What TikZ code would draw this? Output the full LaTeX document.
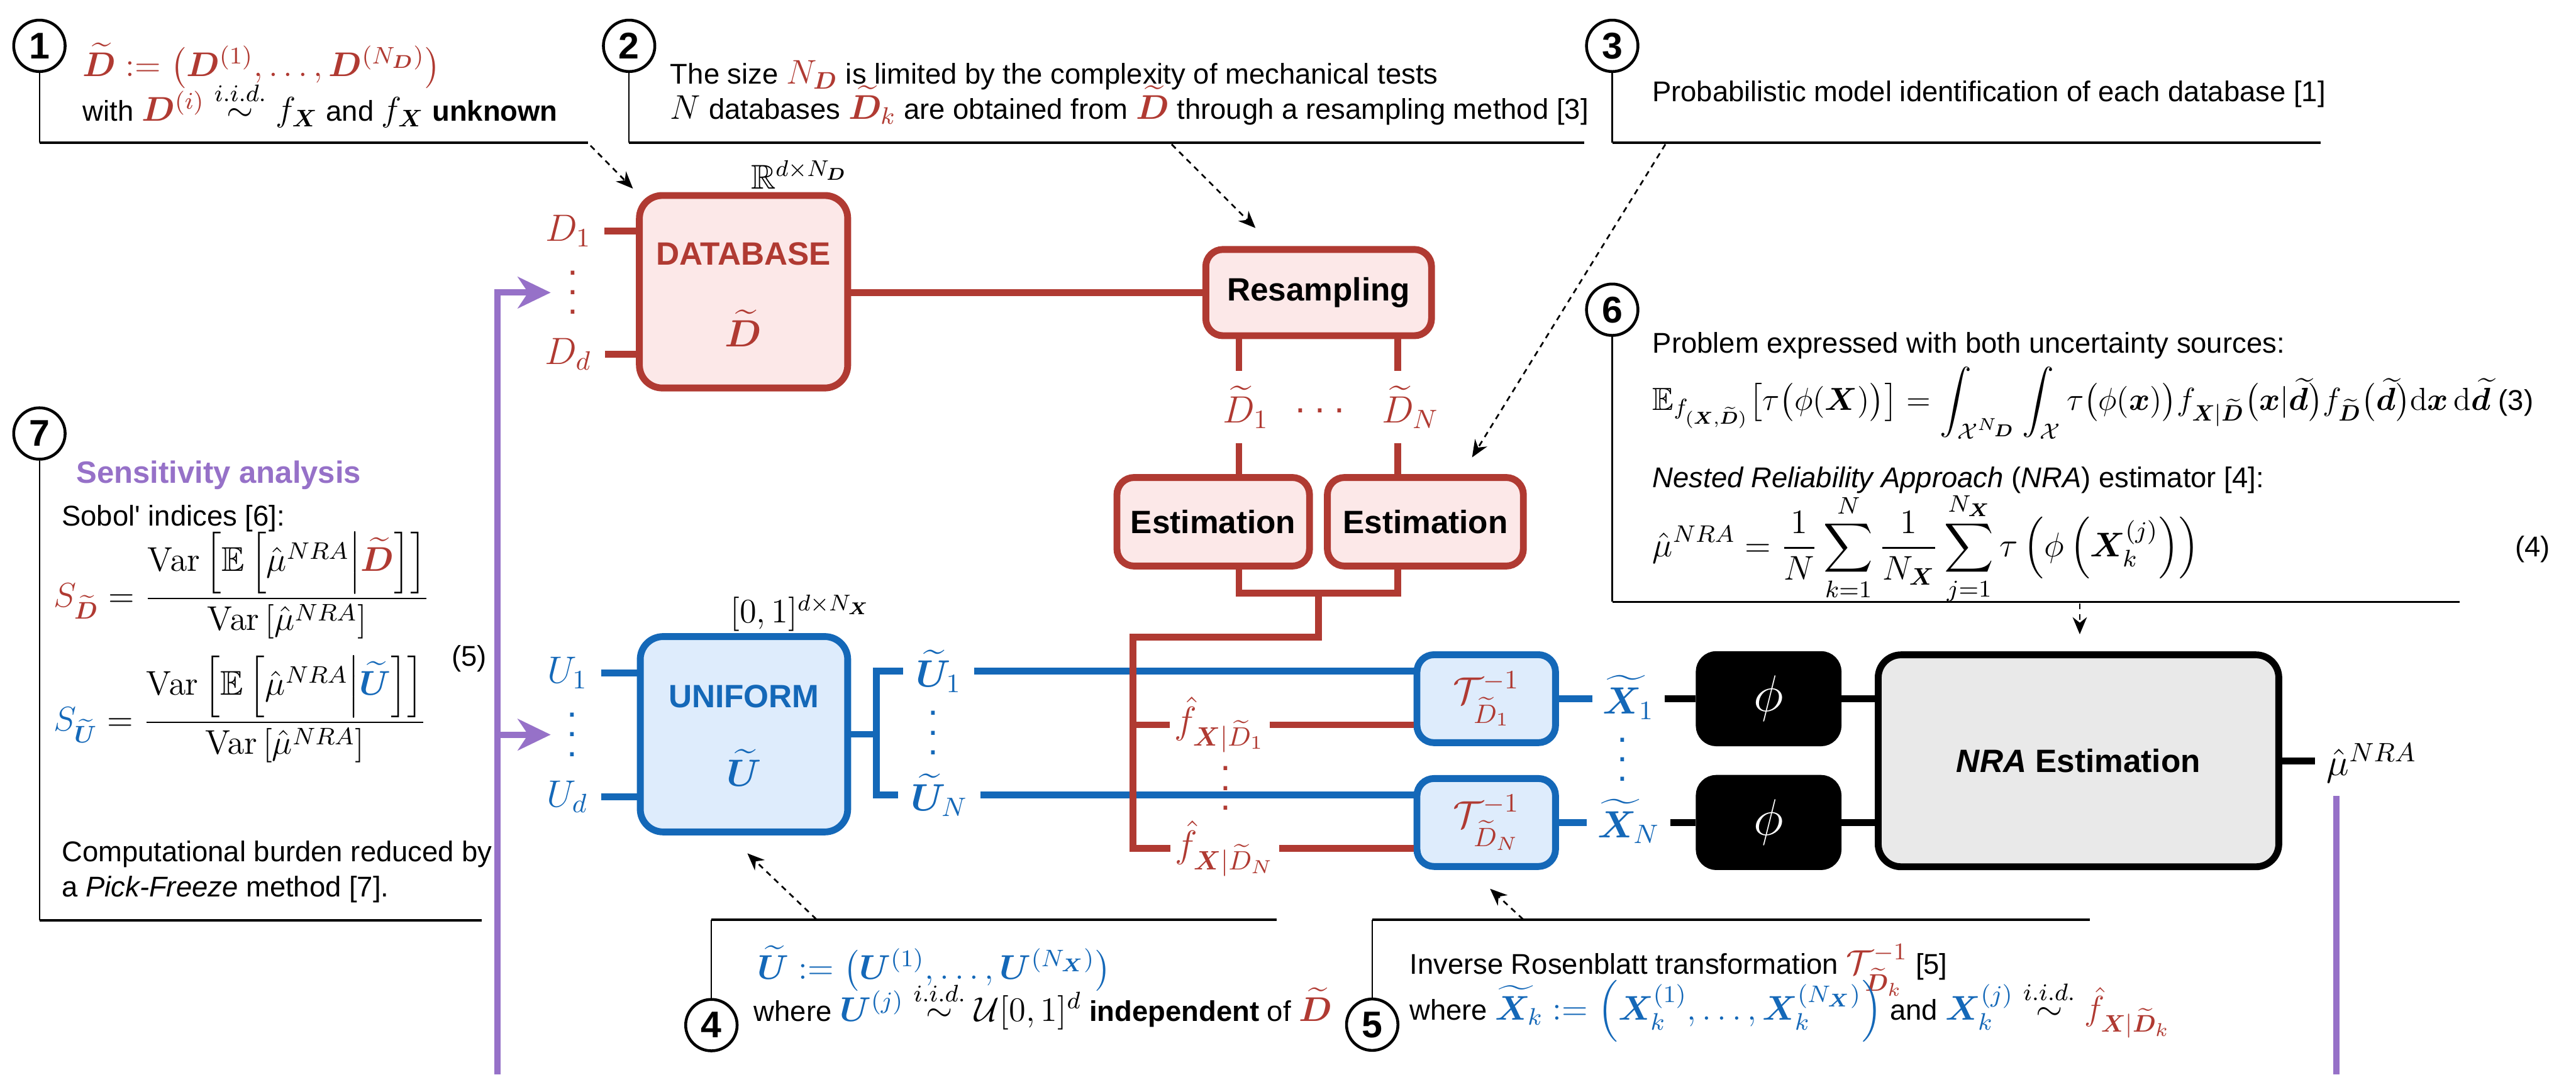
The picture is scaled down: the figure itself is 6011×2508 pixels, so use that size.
\RequirePackage{fix-cm}
\documentclass[tikz,border=0pt]{standalone}
\usepackage{amsmath,amssymb,bm,graphicx}
\usepackage[no-math]{fontspec}
\setmainfont{Liberation Sans}
\DeclareMathSizes{10}{12}{8.4}{6.5}
\usetikzlibrary{arrows.meta,calc}

\definecolor{dbred}{RGB}{176,58,50}
\definecolor{dbfill}{RGB}{252,232,232}
\definecolor{ublue}{RGB}{20,104,184}
\definecolor{ufill}{RGB}{222,236,252}
\definecolor{nragray}{RGB}{233,233,233}
\definecolor{sapurple}{RGB}{150,113,200}

% zero-width math (for subscripts that must not shift the centre)
\newcommand{\mrlap}[1]{\mathpalette\mrlapaux{#1}}
\newcommand{\mrlapaux}[2]{\rlap{$\mathsurround=0pt#1{#2}$}}
% tall vertical and horizontal ellipses made of square dots
\newcommand{\vdts}{\vbox{\baselineskip=6.9pt\lineskiplimit=0pt\hbox{.}\hbox{.}\hbox{.}}}
\newcommand{\hdts}{.\kern3.1pt.\kern3.1pt.}

\tikzset{
  txt/.style={font=\fontsize{10}{12}\selectfont, inner sep=0pt, anchor=base west},
  mlab/.style={font=\fontsize{13.3}{16}\selectfont, inner sep=0pt},
  boxlab/.style={font=\fontsize{11.3}{13.5}\selectfont\bfseries, inner sep=0pt},
  dotlab/.style={font=\fontsize{13.3}{16}\selectfont, inner sep=0pt},
  redbox/.style={draw=dbred, fill=dbfill, line width=2.4pt, rounded corners=6pt},
  bluebox/.style={draw=ublue, fill=ufill, line width=2.4pt, rounded corners=6pt},
  blackbox/.style={draw=black, fill=black, line width=2.4pt, rounded corners=6pt},
  graybox/.style={draw=black, fill=nragray, line width=2.4pt, rounded corners=8pt},
  redline/.style={draw=dbred, line width=2.4pt},
  blueline/.style={draw=ublue, line width=2.4pt},
  blackline/.style={draw=black, line width=2.4pt},
  num/.style={circle, draw, line width=1pt, minimum size=18pt, inner sep=0pt,
              fill=white, font=\fontsize{13}{15}\selectfont\bfseries},
  leadv/.style={line width=0.5pt},
  leadh/.style={line width=0.8pt},
  callarrow/.style={line width=0.6pt, dash pattern=on 2pt off 1.7pt,
                    -{Stealth[length=6pt,width=5pt]}},
  purp/.style={draw=sapurple, line width=2.2pt},
  purparrow/.style={purp, -{Stealth[length=11.5pt,width=11pt,inset=3.6pt]}},
}

\begin{document}
\begin{tikzpicture}[x=0.15pt, y=-0.15pt, line join=miter]
\useasboundingbox (0,0) rectangle (6011,2508);

% ---------------- main blocks ----------------
\node[redbox, rounded corners=8pt, minimum width=72.9pt, minimum height=67.4pt] (db) at (1735,681) {};
\node[boxlab, text=dbred] (dbt) at (1735,593) {DATABASE};
\node[mlab, text=dbred] (dbd) at (1735,766) {$\widetilde{\bm D}$};
\node[font=\fontsize{12}{14}\selectfont, inner sep=0pt, anchor=base west] (rdim) at (1751,441) {$\mathbb{R}^{d\times N_{\bm D}}$};

\node[redbox, boxlab, minimum width=79pt, minimum height=30.2pt] (rs) at (3077,683) {Resampling};
\node[redbox, boxlab, minimum width=67.4pt, minimum height=31pt] (estL) at (2831,1218) {Estimation};
\node[redbox, boxlab, minimum width=68.6pt, minimum height=31pt] (estR) at (3326,1218) {Estimation};

\node[bluebox, rounded corners=8pt, minimum width=72.6pt, minimum height=68.4pt] (uni) at (1736,1714) {};
\node[boxlab, text=ublue] (unit) at (1736,1626) {UNIFORM};
\node[mlab, text=ublue] (unid) at (1736,1792) {$\widetilde{\bm U}$};
\node[font=\fontsize{12}{14}\selectfont, inner sep=0pt, anchor=base west] (udim) at (1703,1454) {$[0,1]^{d\times N_{\bm X}}$};

\node[bluebox, mlab, text=dbred, minimum width=48.5pt, minimum height=30.8pt] (t1) at (3468,1631) {$\mathcal{T}^{-1}_{\widetilde{D}_1}$};
\node[bluebox, mlab, text=dbred, minimum width=48.5pt, minimum height=30.8pt] (tN) at (3468,1920) {$\mathcal{T}^{-1}_{\widetilde{D}_N}$};

\node[blackbox, minimum width=48.6pt, minimum height=30.9pt, inner sep=0pt] (phi1) at (4127,1631) {\color{white}\fontsize{18}{20}\selectfont$\phi$};
\node[blackbox, minimum width=48.6pt, minimum height=30.9pt, inner sep=0pt] (phiN) at (4127,1920) {\color{white}\fontsize{18}{20}\selectfont$\phi$};

\node[graybox, boxlab, minimum width=140.2pt, minimum height=74.2pt] (nra) at (4850,1776) {\textit{NRA} Estimation};

% ---------------- labels ----------------
\node[mlab, text=dbred] (d1) at (1326,539) {$D_1$};
\node[mlab, text=dbred] (dd) at (1326,827) {$D_d$};
\node[dotlab, text=dbred] (ddots) at (1337,683) {\vdts};

\node[mlab, text=ublue] (u1) at (1324,1571) {$U_1$};
\node[mlab, text=ublue] (ud) at (1324,1860) {$U_d$};
\node[dotlab, text=ublue] (udots) at (1336,1715) {\vdts};

\node[mlab, text=ublue, inner xsep=4.3pt] (ut1) at (2190,1567) {$\widetilde{\bm U}_1$};
\node[mlab, text=ublue, inner xsep=4.3pt] (utN) at (2192,1856) {$\widetilde{\bm U}_N$};
\node[dotlab, text=ublue] (utdots) at (2177,1711) {\vdts};

\node[mlab, text=dbred, minimum height=24.9pt] (dt1) at (2891,950) {$\widetilde{D}_{\mrlap{1}}$};
\node[mlab, text=dbred, minimum height=24.9pt] (dtN) at (3262,950) {$\widetilde{D}_{\mrlap{N}}$};
\node[dotlab, text=dbred] (dtdots) at (3080,958) {\hdts};

\node[mlab, text=dbred, inner xsep=1.5pt] (f1) at (2846,1692) {$\hat{f}_{\bm X|\widetilde{D}_1}$};
\node[mlab, text=dbred, inner xsep=1.5pt] (fN) at (2858,1981) {$\hat{f}_{\bm X|\widetilde{D}_N}$};
\node[dotlab, text=dbred] (fdots) at (2860,1840) {\vdts};

\node[mlab, text=ublue, inner xsep=3.5pt] (x1) at (3800,1628) {$\widetilde{\bm X}_1$};
\node[mlab, text=ublue, inner xsep=3.5pt] (xN) at (3800,1917) {$\widetilde{\bm X}_N$};
\node[dotlab, text=ublue] (xdots) at (3786,1773) {\vdts};

\node[mlab, anchor=base west] (mu) at (5428,1810) {$\hat{\mu}^{NRA}$};

% ---------------- connectors ----------------
\coordinate (ub) at (2045,1714);
\draw[blueline] ([xshift=4.5pt]u1.east) -- (uni.west |- u1.east);
\draw[blueline] ([xshift=4.5pt]ud.east) -- (uni.west |- ud.east);
\draw[blueline] (uni.east) -- (ub);
\draw[blueline] (ut1.west) -| (ub) |- (utN.west);
\draw[blueline] (ut1.east) -- (t1.west |- ut1.east);
\draw[blueline] (utN.east) -- (tN.west |- utN.east);
\draw[blueline] (t1.east) -- (x1.west |- t1.east);
\draw[blueline] (tN.east) -- (xN.west |- tN.east);

\draw[redline] ([xshift=4.5pt]d1.east) -- (db.west |- d1.east);
\draw[redline] ([xshift=4.5pt]dd.east) -- (db.west |- dd.east);
\draw[redline] (db.east |- rs.west) -- (rs.west);
\draw[redline] (rs.south -| dt1) -- (dt1.north);
\draw[redline] (rs.south -| dtN) -- (dtN.north);
\draw[redline] (dt1.south) -- (estL.north -| dt1);
\draw[redline] (dtN.south) -- (estR.north -| dtN);
\coordinate (jn) at (3076,1384);
\coordinate (bus) at (2644,1487);
\draw[redline] (estL.south -| dt1) -- (dt1 |- jn) -- (dtN |- jn) -- (estR.south -| dtN);
\draw[redline] (jn) -- (jn |- bus) -- (bus) -- (bus |- fN) -- (fN.west);
\draw[redline] (bus |- f1) -- (f1.west);
\draw[redline] (f1.east) -- (t1.west |- f1);
\draw[redline] (fN.east) -- (tN.west |- fN);

\draw[blackline] (x1.east |- phi1) -- (phi1.west);
\draw[blackline] (xN.east |- phiN) -- (phiN.west);
\draw[blackline] (phi1.east) -- (nra.west |- phi1.east);
\draw[blackline] (phiN.east) -- (nra.west |- phiN.east);
\draw[blackline] (nra.east) -- ([xshift=-4pt]mu.base west |- nra.east);

% sensitivity feedback
\coordinate (ptop) at (1161,683);
\coordinate (pbot) at (1161,2508);
\draw[purparrow] (pbot) -- (ptop) -- ($(ddots)+(-52,0)$);
\draw[purparrow] (ptop |- udots) -- ($(udots)+(-51,0)$);
\coordinate (pr1) at (5452,1858);
\coordinate (pr2) at (5452,2508);
\draw[purp] (pr1) -- (pr2);

% ---------------- callouts ----------------
\node[num] (n1) at (92,107) {1};
\node[num] (n2) at (1468,107) {2};
\node[num] (n3) at (3762,107) {3};
\node[num] (n6) at (3762,723) {6};
\node[num] (n7) at (92,1012) {7};
\node[num] (n4) at (1660,2393) {4};
\node[num] (n5) at (3202,2392) {5};

\coordinate (h1) at (1372,333);
\coordinate (h2) at (3696,333);
\coordinate (h3) at (5415,333);
\coordinate (h6) at (5740,1405);
\coordinate (h7) at (1124,2148);
\coordinate (h4) at (2979,2147);
\coordinate (h5) at (4877,2147);
\foreach \n/\h in {n1/h1, n2/h2, n3/h3, n6/h6, n7/h7}{
  \draw[leadv] (\n.south) -- (\n |- \h);
  \draw[leadh] (\n |- \h) -- (\h);
}
\foreach \n/\h in {n4/h4, n5/h5}{
  \draw[leadv] (\n.north) -- (\n |- \h);
  \draw[leadh] (\n |- \h) -- (\h);
}

% callout 1
\node[txt] (c1a) at (192,178) {$\color{dbred}\widetilde{\bm D}:=\left(\bm D^{(1)},\dots,\bm D^{(N_{\bm D})}\right)$};
\node[txt] (c1b) at (192,283) {with ${\color{dbred}\bm D^{(i)}}\overset{i.i.d.}{\sim} f_{\bm X}$ and $f_{\bm X}$ \textbf{unknown}};

% callout 2
\node[txt] (c2a) at (1563,196) {The size ${\color{dbred}N_{\bm D}}$ is limited by the complexity of mechanical tests};
\node[txt] (c2b) at (1563,278) {$N$ databases ${\color{dbred}\widetilde{\bm D}_k}$ are obtained from ${\color{dbred}\widetilde{\bm D}}$ through a resampling method [3]};

% callout 3
\node[txt] (c3a) at (3854,237) {Probabilistic model identification of each database [1]};

% callout 6
\node[txt] (c6a) at (3855,824) {Problem expressed with both uncertainty sources:};
\node[txt] (c6b) at (3855,957) {\scalebox{0.93}{$\displaystyle\mathbb{E}_{f_{(\bm X,\widetilde{\bm D})}}\bigl[\tau\bigl(\phi(\bm X)\bigr)\bigr]=\int_{\mathcal{X}^{N_{\bm D}}}\int_{\mathcal{X}}\tau\bigl(\phi(\bm x)\bigr)f_{\bm X|\widetilde{\bm D}}\bigl(\bm x|\widetilde{\bm d}\bigr)f_{\widetilde{\bm D}}\bigl(\widetilde{\bm d}\bigr)\mathrm{d}\bm x\,\mathrm{d}\widetilde{\bm d}$} (3)};
\node[txt] (c6c) at (3855,1138) {\textit{Nested Reliability Approach} (\textit{NRA}) estimator [4]:};
\node[txt] (c6d) at (3855,1299) {$\displaystyle\hat{\mu}^{NRA}=\frac{1}{N}\sum_{k=1}^{N}\frac{1}{N_{\bm X}}\sum_{j=1}^{N_{\bm X}}\tau\left(\phi\left(\bm X_k^{(j)}\right)\right)$};
\node[txt] (c6e) at (5868,1300) {(4)};

% callout 7
\node[txt, font=\fontsize{10.8}{13}\selectfont\bfseries, text=sapurple] (c7a) at (177,1128) {Sensitivity analysis};
\node[txt] (c7b) at (143,1227) {Sobol\textquotesingle{} indices [6]:};
\node[txt] (c7c) at (124,1417) {${\color{dbred}S_{\widetilde{\bm D}}}=\dfrac{\mathrm{Var}\left[\mathbb{E}\left[\hat{\mu}^{NRA}\middle|{\color{dbred}\widetilde{\bm D}}\right]\right]}{\mathrm{Var}\left[\hat{\mu}^{NRA}\right]}$};
\node[txt] (c7d) at (124,1706) {${\color{ublue}S_{\widetilde{\bm U}}}=\dfrac{\mathrm{Var}\left[\mathbb{E}\left[\hat{\mu}^{NRA}\middle|{\color{ublue}\widetilde{\bm U}}\right]\right]}{\mathrm{Var}\left[\hat{\mu}^{NRA}\right]}$};
\node[txt] (c7e) at (1053,1555) {(5)};
\node[txt] (c7f) at (143,2011) {Computational burden reduced by};
\node[txt] (c7g) at (143,2094) {a \textit{Pick-Freeze} method [7].};

% callout 4
\node[txt] (c4a) at (1767,2286) {$\color{ublue}\widetilde{\bm U}:=\left(\bm U^{(1)},\dots,\bm U^{(N_{\bm X})}\right)$};
\node[txt] (c4b) at (1758,2384) {where ${\color{ublue}\bm U^{(j)}}\overset{i.i.d.}{\sim}\mathcal{U}[0,1]^d$ \textbf{independent} of ${\color{dbred}\widetilde{\bm D}}$};

% callout 5
\node[txt] (c5a) at (3288,2274) {Inverse Rosenblatt transformation ${\color{dbred}\mathcal{T}^{-1}_{\widetilde{\bm D}_k}}$ [5]};
\node[txt] (c5b) at (3288,2381) {where ${\color{ublue}\widetilde{\bm X}_k:=\left(\bm X_k^{(1)},\dots,\bm X_k^{(N_{\bm X})}\right)}$ and ${\color{ublue}\bm X_k^{(j)}}\overset{i.i.d.}{\sim}{\color{dbred}\hat{f}_{\bm X|\widetilde{\bm D}_k}}$};

% pointers from the callouts
\coordinate (a1) at (1378,340);
\coordinate (a2) at (2734,337);
\coordinate (a3) at (3886,337);
\coordinate (a6) at (4853,1409);
\coordinate (a4) at (1905,2146);
\coordinate (a5) at (3554,2146);
\draw[callarrow] (a1) -- ($(db.north west)+(-7,-8)$);
\draw[callarrow] (a2) -- ($(rs.north west)+(124,-42)$);
\draw[callarrow] (a3) -- ($(estR.north)+(109,-39)$);
\draw[callarrow] (a6) -- ($(nra.north)+(3,-40)$);
\draw[callarrow] (a4) -- ($(uni.south)+(8,42)$);
\draw[callarrow] (a5) -- ($(tN.south)+(9,44)$);
\end{tikzpicture}
\end{document}
